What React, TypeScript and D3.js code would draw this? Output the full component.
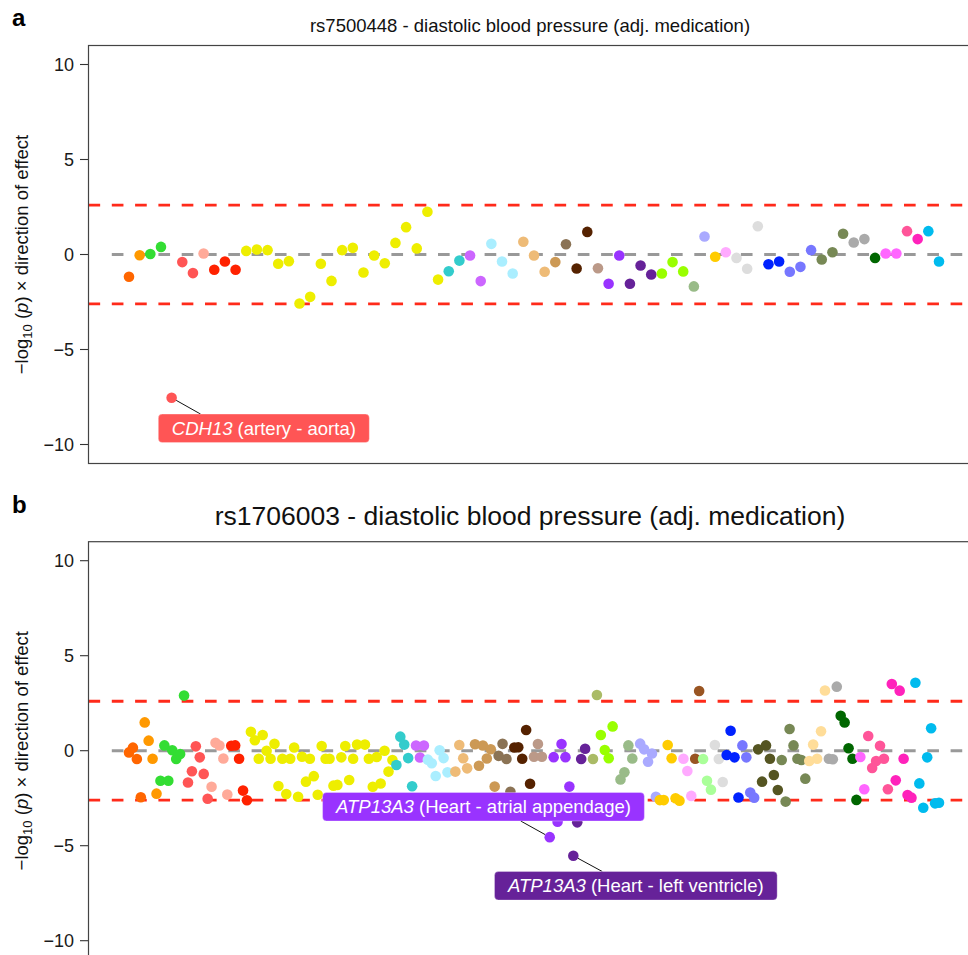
import React from "react";
import * as d3 from "d3";

const FONT = "'Liberation Sans', Arial, Helvetica, sans-serif";

// ---- tissues (GTEx-style colour coding) ----
const tissueNames = [
  "Adipose - Subcutaneous", "Adipose - Visceral", "Adrenal Gland", "Artery - Aorta",
  "Artery - Coronary", "Artery - Tibial", "Brain", "Breast", "Cells - EBV lymphocytes",
  "Cells - Fibroblasts", "Colon - Sigmoid", "Colon - Transverse", "Esophagus - GE junction",
  "Esophagus - Mucosa", "Esophagus - Muscularis", "Heart - Atrial Appendage",
  "Heart - Left Ventricle", "Liver", "Lung", "Minor Salivary Gland", "Muscle - Skeletal",
  "Nerve - Tibial", "Ovary", "Pancreas", "Pituitary", "Prostate", "Skin - Not Sun Exposed",
  "Skin - Sun Exposed", "Small Intestine", "Spleen", "Stomach", "Testis", "Thyroid",
  "Uterus", "Vagina", "Whole Blood", "Other",
];
const tissueColors = [
  "#FF6600", "#FF9900", "#33DD33", "#FF5555", "#FFAA99", "#FF2200", "#EEEE00", "#33CCCC",
  "#CC66FF", "#AAEEFF", "#EEBB77", "#CC9955", "#8B7355", "#552200", "#BB9988", "#9933FF",
  "#662299", "#AABB66", "#99FF00", "#99BB88", "#AAAAFF", "#FFCC00", "#FFAAFF", "#995522",
  "#AAFF99", "#DDDDDD", "#0022FF", "#7777FF", "#555522", "#778855", "#FFDD99", "#AAAAAA",
  "#006600", "#FF66FF", "#FF5599", "#FF22BB", "#00BBEE",
];

const yTicks = [10, 5, 0, -5, -10];
const yTickLabels = ["10", "5", "0", "\u22125", "\u221210"];
const thresholds = [2.6, -2.6];

// ---- panel a ----
const aTitle = "rs7500448 - diastolic blood pressure (adj. medication)";
const aTissueCounts = [1, 1, 2, 3, 1, 3, 19, 2, 2, 3, 3, 1, 1, 2, 1, 2, 3, 0, 3, 1, 1, 1, 1, 0, 0, 3, 2, 3, 0, 3, 0, 2, 1, 2, 1, 1, 2];
const aValue = [
  -1.17, -0.04, 0.03, 0.40, -7.54, -0.40, -0.98, 0.05, -0.80, -0.37,
  -0.80, 0.19, 0.26, 0.23, -0.49, -0.35, -2.58, -2.23, -0.49, -1.39,
  0.23, 0.35, -0.95, -0.05, -0.46, 0.61, 1.44, 0.32, 2.25, -1.32,
  -0.88, -0.32, -0.05, -1.40, 0.56, -0.37, -1.00, 0.67, -0.05, -0.91,
  -0.40, 0.54, -0.74, 1.19, -0.72, -1.54, -0.05, -1.54, -0.58, -1.05,
  -1.00, -0.40, -0.89, -1.68, 0.95, -0.12, 0.12, -0.18, -0.75, 1.49,
  -0.51, -0.37, -0.91, -0.65, 0.23, -0.26, 0.12, 1.09, 0.63, 0.81,
  -0.18, 0.05, 0.05, 1.23, 0.81, 1.23, -0.37,
];
const aLabelGene = ["CDH13"];
const aLabelRest = [" (artery - aorta)"];
const aLabelPoint = [4];
const aLabelX = [12.65];
const aLabelY = [-9.15];

// ---- panel b ----
const bTitle = "rs1706003 - diastolic blood pressure (adj. medication)";
const bTissueCounts = [4, 4, 7, 6, 5, 5, 36, 5, 3, 6, 4, 6, 4, 5, 3, 6, 4, 2, 4, 4, 5, 6, 3, 2, 3, 3, 4, 4, 6, 7, 5, 3, 5, 2, 6, 6, 7];
const bPos = [
  0, 1, 2, 3,
  4, 5, 6, 7,
  8, 9, 10, 11, 12, 13, 14,
  15, 16, 17, 18, 19, 20,
  21, 22, 23, 24, 25,
  26, 27, 28, 29, 30,
  31, 32, 33, 34, 35, 36, 37, 38, 39, 40, 41, 42, 43, 44, 45, 46, 47, 48, 49, 50, 51, 52, 53, 54, 55, 56, 57, 58,
  60, 61, 62, 63, 64, 65, 66, 67,
  68, 69, 70, 71, 72,
  73, 74, 75,
  76, 77, 78, 79, 80, 81,
  83, 84, 85, 86,
  88, 89, 90, 91, 92, 93,
  94, 95, 96, 97,
  98, 99, 100, 101, 102,
  103, 104, 105,
  107, 108, 109, 110, 111, 112,
  113, 114, 115, 116,
  118, 119,
  120, 121, 122, 123,
  125, 126, 127, 128,
  130, 131, 132, 133, 134,
  135, 136, 137, 138, 139, 140,
  141, 142, 143,
  144, 145,
  146, 147, 148,
  149, 150, 151,
  152, 153, 154, 155,
  156, 157, 158, 159,
  160, 161, 162, 163, 164, 165,
  166, 167, 168, 169, 170, 171, 172,
  173, 174, 175, 176, 177,
  178, 179, 180,
  181, 182, 183, 184, 185,
  186, 187,
  188, 189, 190, 191, 192, 193,
  194, 195, 196, 197, 198, 199,
  200, 201, 202, 203, 204, 205, 206,
];
const bValue = [
  -0.09, 0.16, -0.44, -2.45,
  1.49, 0.53, -0.42, -2.26,
  -1.58, 0.28, -1.58, 0.02, -0.44, -0.17, 2.9,
  -1.67, -1.08, 0.23, -0.35, -1.22, -2.53,
  -1.9, 0.42, 0.27, -0.41, -2.31,
  0.26, 0.28, -0.42, -2.1, -2.61,
  1.0, 0.55, -0.42, 0.83, 0.0, -0.42, 0.36, -1.86, -0.42, -2.28, -0.42, 0.17, -2.42, -0.32, -1.63, -0.42, -1.34, -2.32, 0.25, -0.42, -0.42, -1.84, -1.8, -0.35, 0.25, -1.54, -0.42, 0.32,
  0.32, -0.42, -1.9, -0.33, -1.73, 0.0, -1.1, -0.49,
  -0.75, 0.74, 0.32, -0.39, -1.87,
  0.27, -0.36, 0.27,
  -0.47, -0.66, -1.33, 0.02, -0.39, -1.14,
  -1.1, 0.3, -0.4, -0.93,
  0.34, -0.79, 0.27, -0.41, 0.08, -1.89,
  -0.27, 0.36, -0.44, -2.16,
  0.17, 0.18, -0.42, 1.09, -1.74,
  -0.32, 0.35, -0.32,
  -4.55, -0.34, -3.74, 0.35, -0.34, -1.89,
  -5.53, -3.77, -0.44, 0.1,
  -0.44, 2.93,
  0.83, 0.04, -0.4, 1.28,
  -1.51, -1.14, 0.28, -0.41,
  0.37, 0.07, -0.58, -0.15, -2.43,
  -2.6, -2.6, 0.3, -0.4, -2.5, -2.63,
  -0.42, -1.07, -2.38,
  -0.42, 3.14,
  -0.44, -1.58, -2.05,
  0.3, -0.44, -1.65,
  -0.23, 1.05, -0.35, -2.46,
  0.28, -0.35, -2.2, -2.47,
  0.07, -1.63, 0.28, -0.42, -1.28, -2.07,
  -0.49, -2.68, 1.14, 0.28, -0.42, -0.49, -1.47,
  -0.54, 0.32, -0.42, 1.02, 3.17,
  -0.42, -0.45, 3.37,
  1.84, 1.49, 0.13, -0.42, -2.59,
  -0.33, -2.03,
  0.77, -0.91, -0.54, 0.26, -0.42, -2.03,
  3.51, -1.56, 3.16, -0.42, -2.33, -2.47,
  3.58, -1.72, -3.0, -0.35, 1.18, -2.77, -2.74,
];
const bLabelGene = ["ATP13A3", "ATP13A3"];
const bLabelRest = [" (Heart - atrial appendage)", " (Heart - left ventricle)"];
const bLabelPoint = [107, 113];
const bLabelX = [90.15, 128.9];
const bLabelY = [-2.95, -7.11];

// ---- helpers ----
function expand(counts: number[]): number[] {
  const out: number[] = [];
  counts.forEach((c, t) => {
    for (let k = 0; k < c; k++) out.push(t);
  });
  return out;
}

let measureCtx: CanvasRenderingContext2D | null = null;
function textWidth(s: string, font: string): number {
  if (!measureCtx) measureCtx = document.createElement("canvas").getContext("2d");
  if (!measureCtx) return s.length * 9;
  measureCtx.font = font;
  return measureCtx.measureText(s).width;
}

const PL = 88.5;
const PW = 891;
const PH = 418;
const R = 5.3;
const LABEL_FS = 18.5;

interface PanelProps {
  top: number;
  letter: string;
  letterY: number;
  title: string;
  titleSize: number;
  titleY: number;
  pos: number[];
  values: number[];
  tissue: number[];
  labelGene: string[];
  labelRest: string[];
  labelPoint: number[];
  labelX: number[];
  labelY: number[];
}

function Panel(p: PanelProps) {
  const n = d3.max(p.pos) as number;
  const x = d3.scaleLinear().domain([-0.05 * n, 1.05 * n]).range([PL, PL + PW]);
  const y = d3.scaleLinear().domain([-11, 11]).range([p.top + PH, p.top]);
  const y0 = y(0);
  const dash = "11.65 11.65";

  const labels = p.labelGene.map((gene, k) => {
    const pi = p.pos.indexOf(p.labelPoint[k]);
    const px = x(p.pos[pi]);
    const py = y(p.values[pi]);
    const cx = x(p.labelX[k]);
    const cy = y(p.labelY[k]);
    const wG = textWidth(gene, `italic ${LABEL_FS}px ${FONT}`);
    const wR = textWidth(p.labelRest[k], `${LABEL_FS}px ${FONT}`);
    const bw = wG + wR + 27;
    const bh = 28.5;
    const bx = cx - bw / 2;
    const by = cy - bh / 2;
    const sign = cx > px ? 1 : -1;
    const ey = py < cy ? by : by + bh;
    const ex = px + sign * 29;
    const dx = ex - px;
    const dy = ey - py;
    const len = Math.hypot(dx, dy);
    const sx = px + (dx / len) * R;
    const sy = py + (dy / len) * R;
    const color = tissueColors[p.tissue[pi]];
    return { gene, rest: p.labelRest[k], bx, by, bw, bh, cy, sx, sy, ex, ey, color };
  });

  return (
    <g>
      <text x={12} y={p.letterY} fontSize={24} fontWeight="bold" fontFamily={FONT} fill="#000">
        {p.letter}
      </text>
      <text
        x={530}
        y={p.titleY}
        fontSize={p.titleSize}
        fontFamily={FONT}
        textAnchor="middle"
        fill="#111"
      >
        {p.title}
      </text>
      {/* y axis title */}
      <text
        transform={`translate(28,${y0}) rotate(-90)`}
        fontSize={18.5}
        fontFamily={FONT}
        textAnchor="middle"
        fill="#111"
        style={{ whiteSpace: "pre" }}
      >
        <tspan>{"\u2212log"}</tspan>
        <tspan fontSize={13} dy={4}>10</tspan>
        <tspan dy={-4}>{" ("}</tspan>
        <tspan fontStyle="italic">p</tspan>
        <tspan>{") \u00d7 direction of effect"}</tspan>
      </text>
      {/* ticks */}
      {yTicks.map((t, i) => (
        <g key={t}>
          <line x1={PL - 8.5} x2={PL} y1={y(t)} y2={y(t)} stroke="#333" strokeWidth={1.1} />
          <text
            x={PL - 14.5}
            y={y(t) + 6.4}
            fontSize={18}
            fontFamily={FONT}
            textAnchor="end"
            fill="#1a1a1a"
          >
            {yTickLabels[i]}
          </text>
        </g>
      ))}
      {/* reference lines */}
      <line
        x1={PL + 23.3}
        x2={PL + PW}
        y1={y0}
        y2={y0}
        stroke="#999999"
        strokeWidth={2.9}
        strokeDasharray={dash}
      />
      {thresholds.map((t) => (
        <line
          key={t}
          x1={PL}
          x2={PL + PW}
          y1={y(t)}
          y2={y(t)}
          stroke="#FF2A1A"
          strokeWidth={2.9}
          strokeDasharray={dash}
        />
      ))}
      {/* points */}
      {p.values.map((v, i) => (
        <circle key={i} cx={x(p.pos[i])} cy={y(v)} r={R} fill={tissueColors[p.tissue[i]]} />
      ))}
      {/* labels */}
      {labels.map((L, k) => (
        <g key={k}>
          <line x1={L.sx} y1={L.sy} x2={L.ex} y2={L.ey} stroke="#111" strokeWidth={1} />
          <rect
            x={L.bx}
            y={L.by}
            width={L.bw}
            height={L.bh}
            rx={4}
            ry={4}
            fill={L.color}
            stroke="#ffffff"
            strokeOpacity={0.5}
            strokeWidth={0.6}
          />
          <text
            x={L.bx + 13.5}
            y={L.cy + 6.6}
            fontSize={LABEL_FS}
            fontFamily={FONT}
            fill="#ffffff"
            style={{ whiteSpace: "pre" }}
          >
            <tspan fontStyle="italic">{L.gene}</tspan>
            <tspan>{L.rest}</tspan>
          </text>
        </g>
      ))}
      {/* panel border */}
      <rect x={PL} y={p.top} width={PW} height={PH} fill="none" stroke="#444" strokeWidth={1.2} />
    </g>
  );
}

export default function App() {
  const aPos = d3.range(aValue.length);
  const aTissue = expand(aTissueCounts);
  const bTissue = expand(bTissueCounts);
  return (
    <svg
      width={968}
      height={955}
      style={{ position: "absolute", left: 0, top: 0, background: "#fff" }}
      fontFamily={FONT}
    >
      <rect x={0} y={0} width={968} height={955} fill="#fff" />
      <Panel
        top={45.5}
        letter="a"
        letterY={26}
        title={aTitle}
        titleSize={18.5}
        titleY={32}
        pos={aPos}
        values={aValue}
        tissue={aTissue}
        labelGene={aLabelGene}
        labelRest={aLabelRest}
        labelPoint={aLabelPoint}
        labelX={aLabelX}
        labelY={aLabelY}
      />
      <Panel
        top={541.7}
        letter="b"
        letterY={513}
        title={bTitle}
        titleSize={26.5}
        titleY={525}
        pos={bPos}
        values={bValue}
        tissue={bTissue}
        labelGene={bLabelGene}
        labelRest={bLabelRest}
        labelPoint={bLabelPoint}
        labelX={bLabelX}
        labelY={bLabelY}
      />
    </svg>
  );
}
